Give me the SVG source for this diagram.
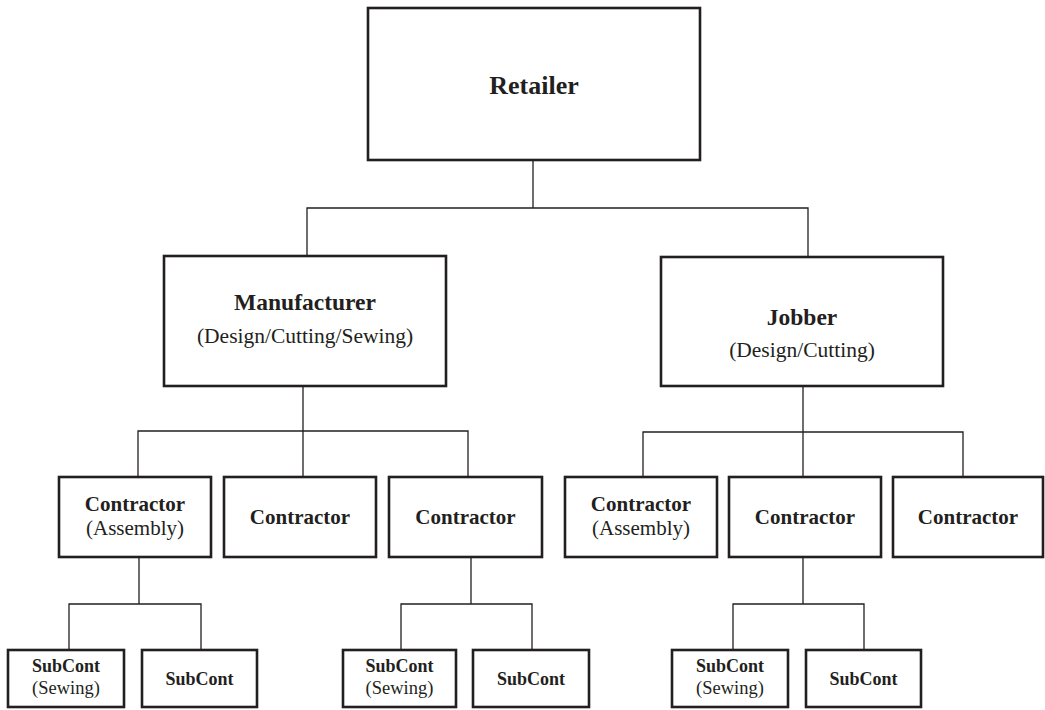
<svg xmlns="http://www.w3.org/2000/svg" width="1045" height="710" viewBox="0 0 1045 710">
<style>
.box{fill:#fff;stroke:#231f20;stroke-width:2.6}
.conn{fill:none;stroke:#231f20;stroke-width:1.3}
text{fill:#231f20;text-anchor:middle}
.b1{font-weight:bold;font-size:26px}
.b2{font-weight:bold;font-size:23.5px}
.r2{font-size:21.5px}
.b3{font-weight:bold;font-size:21px}
.r3{font-size:21px}
.b4{font-weight:bold;font-size:18px}
.r4{font-size:18.5px}
</style>
<rect width="1045" height="710" fill="#fff"/>
<g id="connectors">
<path class="conn" d="M533 160V208M307 256V208H808V257"/>
<path class="conn" d="M303 386V431M138 477V431H468V477M303 431V477"/>
<path class="conn" d="M803 386V432M643 477V432H963V477M803 432V477"/>
<path class="conn" d="M139 557V604M69 650V604H201V650"/>
<path class="conn" d="M471 557V604M401 650V604H532V650"/>
<path class="conn" d="M803 557V604M733 650V604H864V650"/>
</g>
<g font-family="Liberation Serif, Tinos, DejaVu Serif, serif">
<g id="retailer"><rect class="box" x="368" y="8" width="332" height="152"/><text class="b1" x="534" y="94">Retailer</text></g>
<g id="manufacturer"><rect class="box" x="164" y="256" width="282" height="130"/><text class="b2" x="305" y="310">Manufacturer</text><text class="r2" x="305" y="343">(Design/Cutting/Sewing)</text></g>
<g id="jobber"><rect class="box" x="661" y="257" width="282" height="129"/><text class="b2" x="802" y="325">Jobber</text><text class="r2" x="802" y="357">(Design/Cutting)</text></g>
<g id="m-contractor-assembly"><rect class="box" x="59" y="477" width="152" height="80"/><text class="b3" x="135" y="511">Contractor</text><text class="r3" x="135" y="535">(Assembly)</text></g>
<g id="m-contractor-2"><rect class="box" x="224" y="477" width="152" height="80"/><text class="b3" x="300" y="524">Contractor</text></g>
<g id="m-contractor-3"><rect class="box" x="389" y="477" width="153" height="80"/><text class="b3" x="465.5" y="524">Contractor</text></g>
<g id="j-contractor-assembly"><rect class="box" x="565" y="477" width="152" height="80"/><text class="b3" x="641" y="511">Contractor</text><text class="r3" x="641" y="535">(Assembly)</text></g>
<g id="j-contractor-2"><rect class="box" x="729" y="477" width="152" height="80"/><text class="b3" x="805" y="524">Contractor</text></g>
<g id="j-contractor-3"><rect class="box" x="893" y="477" width="150" height="80"/><text class="b3" x="968" y="524">Contractor</text></g>
<g id="subcont-1"><rect class="box" x="8" y="650" width="116" height="57"/><text class="b4" x="66" y="672">SubCont</text><text class="r4" x="66" y="694">(Sewing)</text></g>
<g id="subcont-2"><rect class="box" x="142" y="650" width="115" height="57"/><text class="b4" x="199.5" y="685">SubCont</text></g>
<g id="subcont-3"><rect class="box" x="343" y="650" width="113" height="57"/><text class="b4" x="399.5" y="672">SubCont</text><text class="r4" x="399.5" y="694">(Sewing)</text></g>
<g id="subcont-4"><rect class="box" x="473" y="650" width="116" height="57"/><text class="b4" x="531" y="685">SubCont</text></g>
<g id="subcont-5"><rect class="box" x="672" y="650" width="116" height="57"/><text class="b4" x="730" y="672">SubCont</text><text class="r4" x="730" y="694">(Sewing)</text></g>
<g id="subcont-6"><rect class="box" x="806" y="650" width="115" height="57"/><text class="b4" x="863.5" y="685">SubCont</text></g>
</g>
</svg>
